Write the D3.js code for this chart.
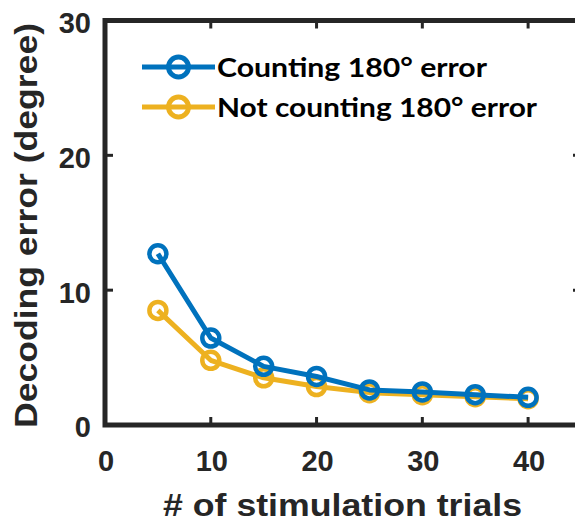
<!DOCTYPE html>
<html>
<head>
<meta charset="utf-8">
<script src="https://cdn.jsdelivr.net/npm/d3@7"></script>
<style>
  body { margin: 0; background: #fff; }
  svg { display: block; }
</style>
</head>
<body>
<svg width="575" height="528"></svg>
<script>
var trials = [5, 10, 15, 20, 25, 30, 35, 40];
var counting = [12.7, 6.45, 4.35, 3.6, 2.6, 2.45, 2.25, 2.05];
var notCounting = [8.5, 4.8, 3.5, 2.85, 2.4, 2.25, 2.1, 1.95];
var xTicks = [0, 10, 20, 30, 40];
var yTicks = [0, 10, 20, 30];
var seriesNames = ["Counting 180\u00b0 error", "Not counting 180\u00b0 error"];
var colors = ["#0072BD", "#EDB120"];

var svg = d3.select("svg");
var axisColor = "#262626";
var sans = "Liberation Sans, Arial, sans-serif";

var x = d3.scaleLinear().domain([0, 45]).range([105, 581]);
var y = d3.scaleLinear().domain([0, 30]).range([425, 20.5]);

// box
svg.append("rect")
    .attr("x", x(0)).attr("y", y(30))
    .attr("width", x(45) - x(0)).attr("height", y(0) - y(30))
    .attr("fill", "none").attr("stroke", axisColor).attr("stroke-width", 5);

// ticks, inward on all sides
var tl = 8;
xTicks.slice(1).forEach(function(t) {
    svg.append("line").attr("x1", x(t)).attr("x2", x(t))
        .attr("y1", y(0)).attr("y2", y(0) - tl)
        .attr("stroke", axisColor).attr("stroke-width", 3);
    svg.append("line").attr("x1", x(t)).attr("x2", x(t))
        .attr("y1", y(30)).attr("y2", y(30) + tl)
        .attr("stroke", axisColor).attr("stroke-width", 3);
});
yTicks.slice(1, 3).forEach(function(t) {
    svg.append("line").attr("x1", x(0)).attr("x2", x(0) + tl)
        .attr("y1", y(t)).attr("y2", y(t))
        .attr("stroke", axisColor).attr("stroke-width", 3);
    svg.append("line").attr("x1", x(45)).attr("x2", x(45) - tl)
        .attr("y1", y(t)).attr("y2", y(t))
        .attr("stroke", axisColor).attr("stroke-width", 3);
});

// tick labels
svg.selectAll(".xl").data(xTicks).enter().append("text")
    .attr("x", function(d) { return x(d) + 1; })
    .attr("y", 471)
    .attr("text-anchor", "middle")
    .attr("font-family", sans)
    .attr("font-weight", "bold").attr("font-size", 29)
    .attr("fill", axisColor)
    .text(function(d) { return d; });

svg.selectAll(".yl").data(yTicks).enter().append("text")
    .attr("x", 91)
    .attr("y", function(d) { return y(d) + 12.4; })
    .attr("text-anchor", "end")
    .attr("font-family", sans)
    .attr("font-weight", "bold").attr("font-size", 29)
    .attr("fill", axisColor)
    .text(function(d) { return d; });

// axis titles
svg.append("text")
    .attr("x", 163).attr("y", 516)
    .attr("font-family", sans)
    .attr("font-weight", "bold").attr("font-size", 32)
    .attr("textLength", 359).attr("lengthAdjust", "spacingAndGlyphs")
    .attr("fill", axisColor)
    .text("# of stimulation trials");

svg.append("text")
    .attr("transform", "translate(37,428) rotate(-90)")
    .attr("font-family", sans)
    .attr("font-weight", "bold").attr("font-size", 31)
    .attr("textLength", 405).attr("lengthAdjust", "spacingAndGlyphs")
    .attr("fill", axisColor)
    .text("Decoding error (degree)");

// series
var series = [counting, notCounting];
var line = d3.line()
    .x(function(d, i) { return x(trials[i]); })
    .y(function(d) { return y(d); });

[1, 0].forEach(function(s) {
    var g = svg.append("g");
    g.append("path").datum(series[s])
        .attr("d", line)
        .attr("fill", "none").attr("stroke", colors[s])
        .attr("stroke-width", 5).attr("stroke-linejoin", "round");
    g.selectAll("circle").data(series[s]).enter().append("circle")
        .attr("cx", function(d, i) { return x(trials[i]); })
        .attr("cy", function(d) { return y(d); })
        .attr("r", 8.5)
        .attr("fill", "none").attr("stroke", colors[s]).attr("stroke-width", 4.5);
});

// legend
var legY = [67, 107];
var legW = [270, 320];
seriesNames.forEach(function(name, i) {
    var g = svg.append("g");
    g.append("line").attr("x1", 142).attr("x2", 215)
        .attr("y1", legY[i]).attr("y2", legY[i])
        .attr("stroke", colors[i]).attr("stroke-width", 5);
    g.append("circle").attr("cx", 178.5).attr("cy", legY[i]).attr("r", 10)
        .attr("fill", "none").attr("stroke", colors[i]).attr("stroke-width", 5);
    g.append("text").attr("x", 217).attr("y", legY[i] + 10)
        .attr("font-family", "Lato, sans-serif")
        .attr("font-weight", "bold").attr("font-size", 27)
        .attr("textLength", legW[i]).attr("lengthAdjust", "spacingAndGlyphs")
        .attr("fill", "#000")
        .text(name);
});
</script>
</body>
</html>
